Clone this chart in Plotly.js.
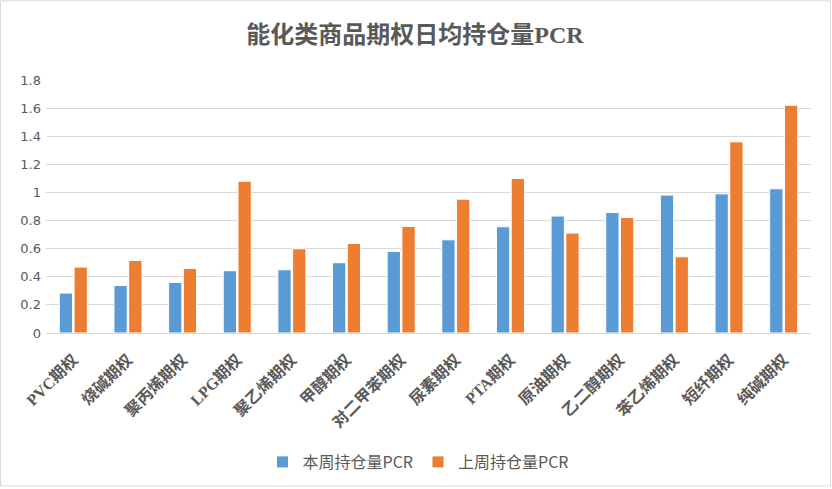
<!DOCTYPE html>
<html><head><meta charset="utf-8">
<script src="https://cdn.plot.ly/plotly-3.0.1.min.js"></script>
<style>html,body{margin:0;padding:0;background:#fff}#chart{width:832px;height:489px}</style>
</head><body><div id="chart"></div>
<script>
const categories = ["PVC期权","烧碱期权","聚丙烯期权","LPG期权","聚乙烯期权","甲醇期权","对二甲苯期权","尿素期权","PTA期权","原油期权","乙二醇期权","苯乙烯期权","短纤期权","纯碱期权"];
const thisWeek = [0.284,0.338,0.36,0.443,0.45,0.50,0.58,0.663,0.756,0.832,0.857,0.981,0.99,1.026];
const lastWeek = [0.469,0.516,0.459,1.08,0.599,0.637,0.758,0.952,1.099,0.711,0.822,0.542,1.36,1.62];
const seriesNames = ["本周持仓量PCR","上周持仓量PCR"];
const yTicks = [0,0.2,0.4,0.6,0.8,1,1.2,1.4,1.6,1.8];

const W=832,H=489,L=46,R=21,T=80,B=155;
const pw=W-L-R, ph=H-T-B;
const px = v => (v-L)/pw, py = v => (H-B-v)/ph;

const traces = [
  {type:'bar', name:seriesNames[0], x:categories, y:thisWeek, marker:{color:'#5b9bd5', line:{color:'#ffffff', width:1}}},
  {type:'bar', name:seriesNames[1], x:categories, y:lastWeek, marker:{color:'#ed7d31', line:{color:'#ffffff', width:1}}}
];
const layout = {
  width:W, height:H,
  margin:{l:L,r:R,t:T,b:B},
  paper_bgcolor:'#fff', plot_bgcolor:'#fff',
  title:{text:'能化类商品期权日均持仓量PCR', x:px(415), xanchor:'center', xref:'paper', y:1-35/H, yanchor:'middle',
    font:{family:'"Liberation Serif","Noto Sans CJK SC",serif', size:24, color:'#595959', weight:'bold'}},
  barmode:'group', bargap:0.46, bargroupgap:0.1,
  xaxis:{type:'category', tickangle:-45, showgrid:false, showline:true, linecolor:'#d9d9d9', linewidth:1,
    ticks:'', ticklabelstandoff:10,
    tickfont:{family:'"Liberation Serif","Noto Sans CJK SC",serif', size:16, color:'#595959', weight:'bold'}},
  yaxis:{range:[0,1.8], tickvals:yTicks, ticktext:yTicks.map(String), showgrid:true, gridcolor:'#d9d9d9', gridwidth:1,
    zeroline:true, zerolinecolor:'#d9d9d9', showline:false, ticks:'', ticklabelstandoff:4,
    tickfont:{family:'"DejaVu Sans",sans-serif', size:13, color:'#595959'}},
  legend:{orientation:'h', x:px(418), xanchor:'center', y:py(462), yanchor:'middle',
    font:{family:'"Noto Sans CJK SC",sans-serif', size:16, color:'#595959'}, itemwidth:30, traceorder:'normal'},
  shapes:[{type:'rect', xref:'paper', yref:'paper', x0:px(0.5), x1:px(W-1.5), y0:py(H-1.5), y1:py(0.5),
    line:{color:'#d9d9d9', width:1}}]
};
Plotly.newPlot('chart', traces, layout, {displayModeBar:false, staticPlot:true});
</script></body></html>
